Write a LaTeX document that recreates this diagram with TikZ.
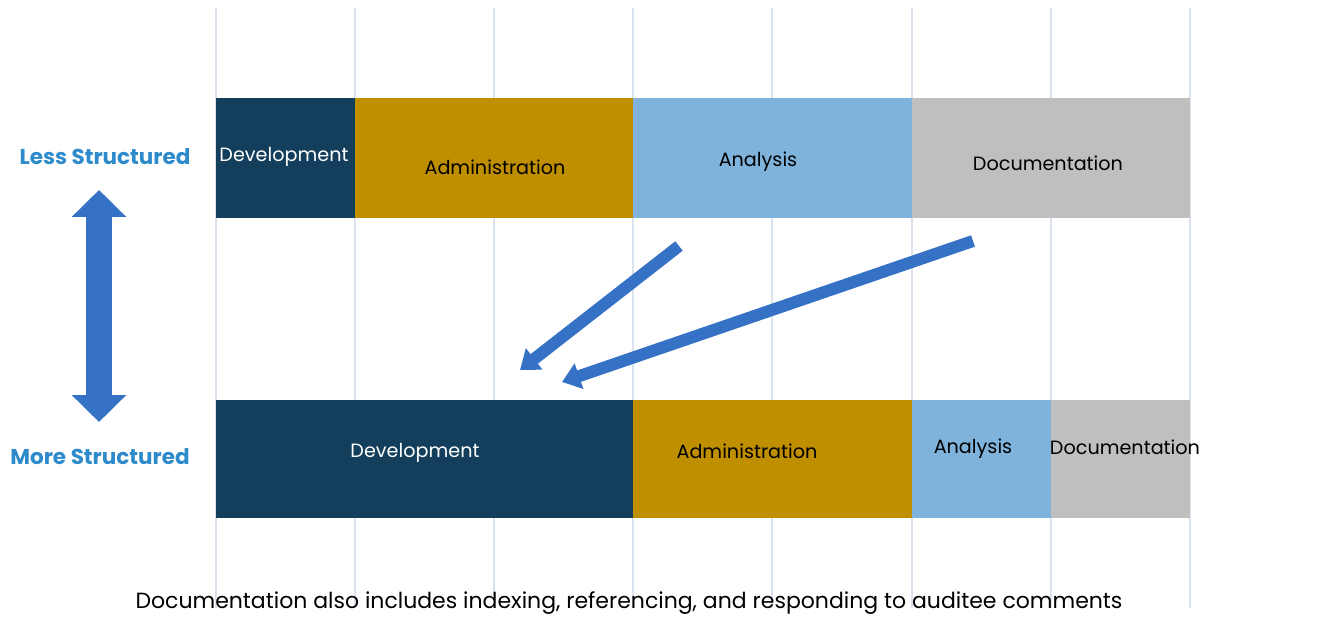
\documentclass[tikz,border=0pt]{standalone}
\usepackage{fontspec}
\setmainfont{Poppins}
\usetikzlibrary{arrows.meta}
\definecolor{navy}{HTML}{133F5C}
\definecolor{gold}{HTML}{BF8F00}
\definecolor{lblue}{HTML}{7FB3DB}
\definecolor{lgray}{HTML}{BFBFBF}
\definecolor{grid}{HTML}{DAE3EE}
\definecolor{arrblue}{HTML}{3572C6}
\definecolor{labblue}{HTML}{2E8BCB}
\tikzset{
  seg/.style={draw=none, inner sep=0pt, anchor=north west},
  barlabel/.style={font=\fontsize{19.2}{22}\selectfont, text=black, inner sep=0pt},
  sidelabel/.style={font=\fontsize{21.5}{24}\selectfont\bfseries, text=labblue, inner sep=0pt},
  bigarrow/.style={draw=arrblue, line width=12pt, -{Triangle[width=26pt,length=18pt]}},
  dblarrow/.style={draw=arrblue, line width=26pt, {Triangle[width=53pt,length=27pt]}-{Triangle[width=53pt,length=27pt]}},
  gridline/.style={draw=grid, line width=1.2pt}
}
\begin{document}
\begin{tikzpicture}[x=1pt,y=-1pt]
\useasboundingbox[fill=white] (0,0) rectangle (1325,617);
% grid lines
\foreach \gx in {216,355,494,633,772,912,1051,1190}
  \draw[gridline] (\gx,8) -- (\gx,608);
% top bar
\node[seg, fill=navy, minimum width=139pt, minimum height=120pt] (t1) at (216,98) {};
\node[seg, fill=gold, minimum width=278pt, minimum height=120pt] (t2) at (355,98) {};
\node[seg, fill=lblue, minimum width=279pt, minimum height=120pt] (t3) at (633,98) {};
\node[seg, fill=lgray, minimum width=278pt, minimum height=120pt] (t4) at (912,98) {};
% bottom bar
\node[seg, fill=navy, minimum width=417pt, minimum height=118pt] (b1) at (216,400) {};
\node[seg, fill=gold, minimum width=279pt, minimum height=118pt] (b2) at (633,400) {};
\node[seg, fill=lblue, minimum width=139pt, minimum height=118pt] (b3) at (912,400) {};
\node[seg, fill=lgray, minimum width=139pt, minimum height=118pt] (b4) at (1051,400) {};
% bar labels
\node[barlabel, text=white] (lt1) at (284,157) {Development};
\node[barlabel] (lt2) at (495,167) {Administration};
\node[barlabel] (lt3) at (758,162) {Analysis};
\node[barlabel] (lt4) at (1048,163) {Documentation};
\node[barlabel, text=white] (lb1) at (415,453) {Development};
\node[barlabel] (lb2) at (747,451) {Administration};
\node[barlabel] (lb3) at (973,449) {Analysis};
\node[barlabel] (lb4) at (1125,447) {Documentation};
% side labels
\node[sidelabel] (less) at (105,157) {Less Structured};
\node[sidelabel] (more) at (100,457) {More Structured};
% double arrow
\coordinate (dtop) at (99,190);
\coordinate (dbot) at (99,422);
\draw[dblarrow] (dtop) -- (dbot);
% diagonal arrows
\coordinate (a1s) at (679,246);
\coordinate (a1e) at (520,370);
\coordinate (a2s) at (973,241);
\coordinate (a2e) at (562,382);
\draw[bigarrow] (a1s) -- (a1e);
\draw[bigarrow] (a2s) -- (a2e);
% footnote
\node[font=\fontsize{22}{26}\selectfont, text=black, inner sep=0pt] (note) at (629,603)
  {Documentation also includes indexing, referencing, and responding to auditee comments};
\end{tikzpicture}
\end{document}
